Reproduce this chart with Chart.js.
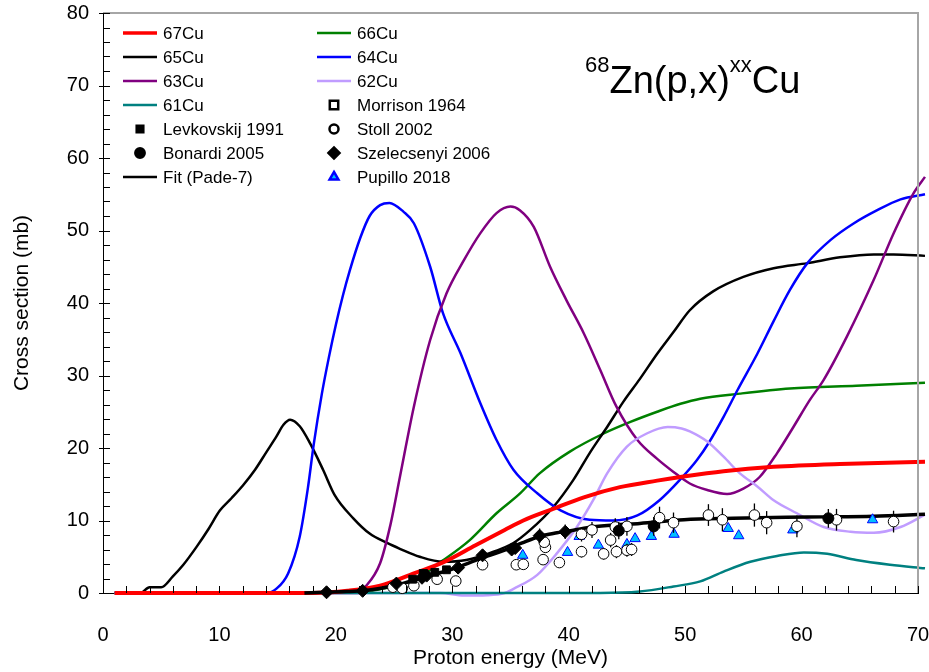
<!DOCTYPE html>
<html>
<head>
<meta charset="utf-8">
<script src="https://cdn.jsdelivr.net/npm/chart.js@4.4.1/dist/chart.umd.min.js"></script>
<style>
  html, body { margin: 0; padding: 0; background: #fff; }
</style>
</head>
<body>
<canvas id="c" width="929" height="672"></canvas>
<script>
// calculated excitation functions (energy in MeV, cross section in mb)
const cu67E = [1, 18, 21, 23.8, 26.7, 29.3, 32.0, 34.5, 36.1, 38.5, 41.3, 44.4, 47.6, 49.6, 53.3, 57.6, 63.3, 70.6];
const cu67S = [0, 0, 0.3, 1.0, 2.7, 4.3, 6.6, 8.7, 10.0, 11.5, 13.2, 14.6, 15.5, 16.0, 16.8, 17.4, 17.8, 18.1];

const cu66E = [1, 22, 24, 26.7, 29.2, 31.5, 33.8, 35.8, 37.5, 40.1, 43.0, 45.3, 47.6, 49.6, 51.3, 54.7, 59.0, 64.7, 70.6];
const cu66S = [0, 0.1, 0.6, 1.8, 4.5, 7.3, 11.0, 13.7, 16.5, 19.5, 22.0, 23.6, 25.0, 26.1, 26.8, 27.5, 28.2, 28.6, 29.0];

const cu65E = [1, 3.2, 4.0, 5.0, 6.0, 6.9, 8.05, 9.05, 10.05, 11.05, 12.05, 13.06, 14.06, 14.9, 15.5, 16.07, 16.9, 17.8, 18.9, 19.9,
  21.5, 22.9, 24.4, 25.5, 27.2, 29.2, 31.2, 33.2, 35.25, 36.7, 38.7, 40.4, 41.8, 43.3, 44.7, 46.1, 47.6, 49.0, 50.4, 52.4,
  55.0, 57.6, 60.5, 63.3, 66.2, 67.9, 70.6];
const cu65S = [0, 0, 0.8, 0.8, 2.3, 3.9, 6.4, 8.8, 11.4, 13.1, 14.9, 17.0, 19.5, 21.6, 23.2, 23.9, 23.0, 20.6, 17.0, 13.5,
  10.3, 8.2, 6.9, 6.1, 5.0, 4.3, 4.55, 5.5, 6.9, 8.7, 11.9, 15.6, 19.3, 22.9, 26.4, 29.5, 33.0, 36.0, 39.0, 41.6,
  43.6, 44.8, 45.5, 46.3, 46.7, 46.7, 46.5];

const cu64E = [1, 14.06, 14.9, 15.9, 16.9, 17.6, 18.1, 18.8, 19.4, 20.0, 20.6, 21.2, 22.1, 22.9, 23.8, 24.6, 25.8, 26.7,
  28.1, 29.2, 30.7, 32.4, 33.8, 35.25, 37.3, 39.3, 41.8, 43.8, 45.9, 47.8, 49.6, 51.0, 52.1, 53.3, 54.5, 56.2, 57.6,
  59.0, 60.5, 62.5, 64.5, 66.5, 68.5, 70.6];
const cu64S = [0, 0, 0.6, 2.7, 7.8, 14.5, 20.5, 27.5, 32.5, 37.0, 41.0, 44.5, 49.0, 52.0, 53.5, 53.8, 52.6, 51.0,
  45.0, 38.6, 33.1, 26.2, 21.1, 17.0, 13.75, 11.4, 10.1, 10.0, 10.7, 12.8, 15.7, 18.3, 20.9, 24.3, 28.0, 33.0, 37.5,
  41.8, 45.5, 48.7, 51.0, 52.8, 54.3, 55.0];

const cu63E = [1, 22.0, 22.4, 23.8, 24.7, 25.5, 26.7, 28.1, 29.5, 31.0, 32.4, 33.8, 35.0, 35.8, 37.0, 38.4, 39.8, 41.3,
  42.7, 44.1, 45.9, 47.6, 49.0, 50.4, 51.9, 53.6, 55.0, 56.4, 57.9, 59.3, 60.7, 61.9, 63.9, 66.2, 67.9, 69.6, 70.6];
const cu63S = [0, 0, 0.6, 4.1, 9.5, 16.0, 25.7, 34.9, 41.3, 45.9, 49.6, 52.4, 53.3, 52.8, 50.5, 45.0, 40.4, 35.8,
  30.8, 25.7, 21.1, 18.5, 16.7, 15.1, 14.2, 13.65, 14.4, 16.0, 19.3, 22.9, 26.6, 29.4, 35.4, 43.2, 49.6, 55.1, 57.4];

const cu62E = [1, 29, 31, 33, 34.5, 35.3, 37.3, 39.0, 40.7, 42.1, 43.3, 45.0, 46.7, 48.5, 49.7, 50.4, 51.9, 53.3, 54.7,
  56.2, 57.6, 59.6, 61.9, 64.2, 66.2, 68.5, 70.6];
const cu62S = [0, 0, -0.35, -0.3, 0, 0.6, 2.5, 5.5, 9.1, 12.8, 16.5, 20.2, 22.0, 22.9, 22.7, 22.3, 20.9, 18.8, 16.5,
  14.7, 12.8, 11.0, 9.1, 8.45, 8.3, 9.1, 10.8];

const cu61E = [1, 42.7, 46.1, 49.0, 51.3, 53.3, 55.6, 57.9, 60.2, 62.2, 64.7, 67.6, 70.6];
const cu61S = [0, 0, 0.2, 0.9, 1.6, 2.95, 4.3, 5.1, 5.6, 5.4, 4.55, 3.9, 3.4];

const fitE = [17.3, 19, 21, 22.5, 24, 25.5, 27, 28.5, 30, 31.5, 33, 34.5, 36, 37.5, 39, 40.5, 42, 44, 46.1, 49.9,
  54.1, 58.7, 62, 66.2, 70.6];
const fitS = [0, 0.1, 0.2, 0.35, 0.7, 1.2, 1.9, 2.6, 3.3, 4.2, 5.1, 5.9, 6.9, 7.8, 8.3, 8.7, 9.1, 9.4, 9.6, 10.1,
  10.3, 10.45, 10.5, 10.6, 10.85];

// measured data
const morrisonE = [];
const morrisonS = [];

const levkovskijE = [26.6, 27.5, 28.5, 29.5];
const levkovskijS = [1.9, 2.7, 2.85, 3.2];

const bonardiE = [44.3, 47.3, 62.3];
const bonardiS = [8.6, 9.2, 10.3];
const bonardiErr = [1.2, 1.3, 1.3];

const szelecsenyiE = [19.2, 22.3, 25.2, 27.4, 27.8, 30.5, 32.6, 35.1, 35.4, 37.5, 39.7];
const szelecsenyiS = [0.1, 0.3, 1.3, 2.1, 2.4, 3.5, 5.2, 6.0, 6.2, 7.9, 8.45];
const szelecsenyiErr = [0.05, 0.1, 0.2, 0.3, 0.4, 0.5, 0.7, 0.8, 0.8, 1.0, 1.0];

const stollE = [24.9, 25.7, 26.7, 28.7, 30.3, 32.6, 35.5, 36.1, 37.8, 38.0, 37.9, 39.2, 41.1, 41.1, 42.0, 43.0,
  43.6, 44.0, 44.1, 45.0, 45.0, 45.4, 47.8, 49.0, 52.0, 53.2, 55.95, 57.0, 59.6, 63.0, 67.9];
const stollS = [0.8, 0.65, 1.0, 1.9, 1.65, 3.9, 3.9, 3.95, 4.6, 6.3, 7.0, 4.2, 5.7, 8.1, 8.7, 5.4,
  7.3, 9.1, 5.7, 5.9, 9.2, 6.0, 10.4, 9.7, 10.75, 10.1, 10.75, 9.7, 9.2, 10.1, 9.85];
const stollErr = [0.2, 0.2, 0.3, 0.3, 0.3, 0.5, 0.5, 0.5, 0.6, 0.7, 0.8, 0.6, 0.8, 1.0, 1.1, 0.8,
  1.0, 1.2, 0.9, 0.9, 1.3, 0.9, 1.5, 1.4, 1.5, 1.6, 1.6, 1.6, 1.5, 1.5, 1.5];

const pupilloE = [36.05, 39.9, 40.9, 42.55, 45.0, 45.7, 47.1, 49.05, 53.7, 54.6, 59.25, 66.1];
const pupilloS = [5.2, 5.6, 7.8, 6.6, 6.7, 7.5, 7.8, 8.1, 8.9, 7.9, 8.7, 10.1];

const xTicks = [0, 10, 20, 30, 40, 50, 60, 70];
const yTicks = [0, 10, 20, 30, 40, 50, 60, 70, 80];

const legendOrder = ["67Cu", "66Cu", "65Cu", "64Cu", "63Cu", "62Cu", "61Cu", "Morrison 1964",
  "Levkovskij 1991", "Stoll 2002", "Bonardi 2005", "Szelecsenyi 2006", "Fit (Pade-7)", "Pupillo 2018"];

const FONT = "'Liberation Sans', Arial, sans-serif";

function pts(xs, ys) {
  return xs.map((x, i) => ({ x, y: ys[i] }));
}

function curve(label, xs, ys, color, width, order) {
  return {
    label,
    data: pts(xs, ys),
    borderColor: color,
    backgroundColor: color,
    borderWidth: width,
    pointRadius: 0,
    showLine: true,
    cubicInterpolationMode: "monotone",
    clip: { left: 2, top: 2, right: 8, bottom: 6 },
    order
  };
}

function markers(label, xs, ys, style, radius, fill, stroke, err) {
  return {
    label,
    data: pts(xs, ys),
    showLine: false,
    pointStyle: style,
    pointRadius: radius,
    pointBackgroundColor: fill,
    pointBorderColor: stroke,
    pointBorderWidth: 1,
    borderColor: stroke,
    backgroundColor: fill,
    errors: err || null,
    clip: false,
    order: 1
  };
}

const datasets = [
  curve("61Cu", cu61E, cu61S, "#008080", 2.5, 10),
  curve("62Cu", cu62E, cu62S, "#c09cff", 2.5, 10),
  curve("63Cu", cu63E, cu63S, "#800080", 2.5, 10),
  curve("64Cu", cu64E, cu64S, "#0000ff", 2.5, 10),
  curve("65Cu", cu65E, cu65S, "#000000", 2.5, 10),
  curve("66Cu", cu66E, cu66S, "#008000", 2.5, 10),
  curve("67Cu", cu67E, cu67S, "#ff0000", 4, 9),
  curve("Fit (Pade-7)", fitE, fitS, "#000000", 3.5, 5),
  markers("Morrison 1964", morrisonE, morrisonS, "rect", 7, "#ffffff", "#000000"),
  markers("Levkovskij 1991", levkovskijE, levkovskijS, "rect", 5.5, "#000000", "#000000"),
  markers("Bonardi 2005", bonardiE, bonardiS, "circle", 5.5, "#000000", "#000000", bonardiErr),
  markers("Szelecsenyi 2006", szelecsenyiE, szelecsenyiS, "rectRot", 6.5, "#000000", "#000000", szelecsenyiErr),
  markers("Stoll 2002", stollE, stollS, "circle", 5.3, "#ffffff", "#000000", stollErr),
  markers("Pupillo 2018", pupilloE, pupilloS, "triangle", 6, "#00c0ff", "#0000ff")
];

// vertical error bars, drawn just before each marker set
const errorBars = {
  id: "errorBars",
  beforeDatasetDraw(chart, args) {
    const ds = chart.data.datasets[args.index];
    if (!ds.errors) return;
    const { ctx, scales: { x, y } } = chart;
    ctx.save();
    ctx.strokeStyle = "#000";
    ctx.lineWidth = 1.3;
    ds.data.forEach((p, i) => {
      const px = x.getPixelForValue(p.x);
      ctx.beginPath();
      ctx.moveTo(px, y.getPixelForValue(p.y - ds.errors[i]));
      ctx.lineTo(px, y.getPixelForValue(p.y + ds.errors[i]));
      ctx.stroke();
    });
    ctx.restore();
  }
};

// frame + inward ticks
const frame = {
  id: "frame",
  afterDraw(chart) {
    const { ctx, chartArea: a, scales: { x, y } } = chart;
    ctx.save();
    ctx.strokeStyle = "#a6a6a6";
    ctx.lineWidth = 2;
    ctx.beginPath();
    ctx.moveTo(a.left, a.top);
    ctx.lineTo(a.right, a.top);
    ctx.lineTo(a.right, a.bottom);
    ctx.stroke();

    ctx.strokeStyle = "#000";
    ctx.lineWidth = 1;
    for (let v = 0; v <= 70; v += 2) {
      const px = Math.round(x.getPixelForValue(v)) + 0.5;
      ctx.beginPath();
      ctx.moveTo(px, a.bottom);
      ctx.lineTo(px, a.bottom - 7);
      ctx.stroke();
    }
    for (let v = 0; v <= 80; v += 2) {
      const py = Math.round(y.getPixelForValue(v)) + 0.5;
      ctx.beginPath();
      ctx.moveTo(a.left - (v % 10 === 0 ? 4 : 0), py);
      ctx.lineTo(a.left + 7, py);
      ctx.stroke();
    }
    ctx.restore();
  }
};

// two-column legend inside the plot
const insideLegend = {
  id: "insideLegend",
  afterDraw(chart) {
    const { ctx } = chart;
    const byLabel = {};
    chart.data.datasets.forEach((d) => { byLabel[d.label] = d; });
    ctx.save();
    ctx.font = `17px ${FONT}`;
    ctx.textBaseline = "middle";
    ctx.fillStyle = "#000";
    legendOrder.forEach((label, i) => {
      const d = byLabel[label];
      const col = i % 2;
      const row = Math.floor(i / 2);
      const x0 = col === 0 ? 123 : 317;
      const yy = 33 + row * 24;
      if (d.showLine) {
        ctx.strokeStyle = d.borderColor;
        ctx.lineWidth = d.borderWidth === 4 ? 3.5 : 2.5;
        ctx.beginPath();
        ctx.moveTo(x0, yy);
        ctx.lineTo(x0 + 34, yy);
        ctx.stroke();
      } else {
        ctx.fillStyle = d.pointBackgroundColor;
        ctx.strokeStyle = d.pointBorderColor;
        Chart.helpers.drawPoint(ctx, {
          pointStyle: d.pointStyle,
          radius: d.pointRadius * 0.85,
          rotation: 0,
          borderWidth: 1
        }, x0 + 17, yy);
      }
      ctx.fillStyle = "#000";
      ctx.fillText(label, x0 + 40, yy + 1);
    });
    ctx.restore();
  }
};

// reaction label with superscripts
const reactionTitle = {
  id: "reactionTitle",
  afterDraw(chart) {
    const { ctx } = chart;
    ctx.save();
    ctx.fillStyle = "#000";
    ctx.textBaseline = "alphabetic";
    const parts = [["68", 22, 72], ["Zn(p,x)", 38, 93], ["xx", 22, 72], ["Cu", 38, 93]];
    let x = 585;
    parts.forEach(([t, size, base]) => {
      ctx.font = `${size}px ${FONT}`;
      ctx.fillText(t, x, base);
      x += ctx.measureText(t).width;
    });
    ctx.restore();
  }
};

function noPad(s) {
  s.paddingLeft = 0;
  s.paddingRight = 0;
  s.paddingTop = 0;
  s.paddingBottom = 0;
}

new Chart(document.getElementById("c"), {
  type: "line",
  data: { datasets },
  options: {
    responsive: false,
    animation: false,
    devicePixelRatio: 1,
    layout: { autoPadding: false, padding: { left: 0, top: 13, right: 11, bottom: 0 } },
    plugins: {
      legend: { display: false },
      tooltip: { enabled: false }
    },
    scales: {
      x: {
        type: "linear",
        min: 0,
        max: 70,
        afterFit(s) { s.height = 79; noPad(s); },
        afterBuildTicks(s) { s.ticks = xTicks.map((v) => ({ value: v })); },
        grid: { display: false, drawTicks: false },
        border: { color: "#000", width: 1 },
        ticks: { padding: 30, color: "#000", font: { family: FONT, size: 20 } },
        title: {
          display: true,
          text: "Proton energy (MeV)",
          color: "#000",
          font: { family: FONT, size: 21 },
          padding: { top: 0, bottom: 1 }
        }
      },
      y: {
        type: "linear",
        min: 0,
        max: 80,
        afterFit(s) { s.width = 103; noPad(s); },
        afterBuildTicks(s) { s.ticks = yTicks.map((v) => ({ value: v })); },
        grid: { display: false, drawTicks: false },
        border: { color: "#000", width: 1 },
        ticks: { padding: 14, color: "#000", font: { family: FONT, size: 20 } },
        title: {
          display: true,
          text: "Cross section (mb)",
          color: "#000",
          font: { family: FONT, size: 21 },
          padding: { top: 10, bottom: 0 }
        }
      }
    }
  },
  plugins: [errorBars, frame, insideLegend, reactionTitle]
});
</script>
</body>
</html>
